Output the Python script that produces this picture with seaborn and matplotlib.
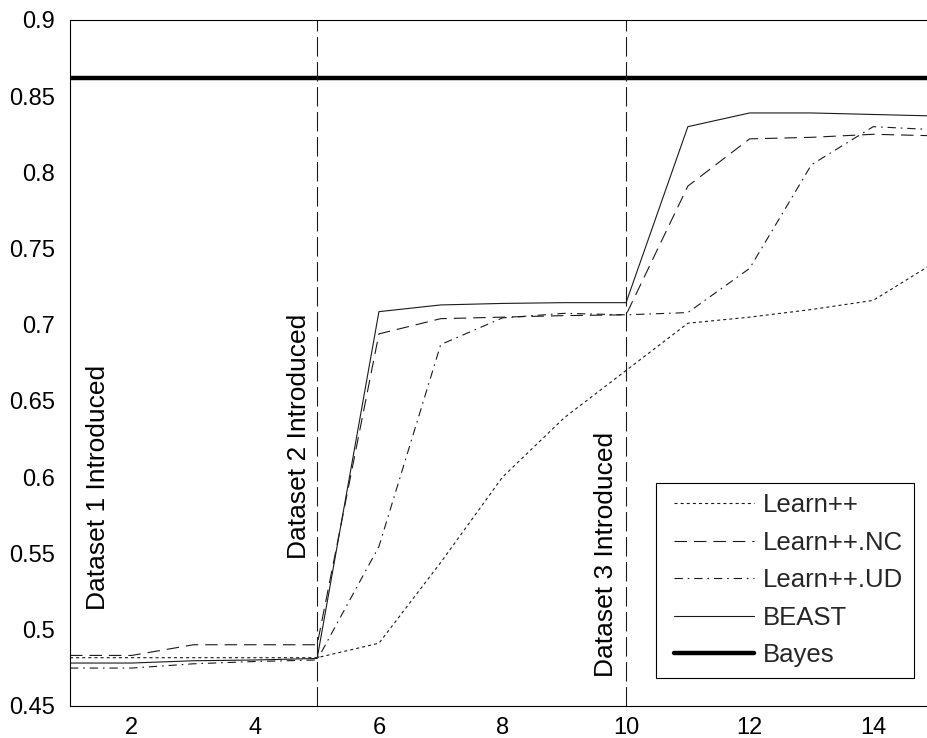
import matplotlib
matplotlib.use("Agg")
import matplotlib.pyplot as plt
from matplotlib.lines import Line2D
from matplotlib.legend_handler import HandlerLine2D
import numpy as np
import pandas as pd
import seaborn as sns

# Accuracy per incremental iteration
iterations = [1, 2, 3, 4, 5, 6, 7, 8, 9, 10, 11, 12, 13, 14, 15]
learnpp = [0.4815, 0.4815, 0.4815, 0.4815, 0.4815, 0.491, 0.544, 0.600,
           0.639, 0.670, 0.701, 0.705, 0.710, 0.716, 0.741]
learnpp_nc = [0.483, 0.483, 0.490, 0.490, 0.490, 0.694, 0.704, 0.705,
              0.706, 0.7065, 0.791, 0.822, 0.823, 0.825, 0.824]
learnpp_ud = [0.4747, 0.4747, 0.4775, 0.479, 0.480, 0.5545, 0.687, 0.7045,
              0.7075, 0.7065, 0.708, 0.737, 0.805, 0.830, 0.828]
beast = [0.478, 0.478, 0.4795, 0.480, 0.481, 0.7086, 0.713, 0.714,
         0.7145, 0.7145, 0.830, 0.839, 0.839, 0.838, 0.837]
bayes = [0.862] * len(iterations)

series_names = ["Learn++", "Learn++.NC", "Learn++.UD", "BEAST", "Bayes"]
dataset_starts = [5, 10]
dataset_labels = ["Dataset 1 Introduced", "Dataset 2 Introduced", "Dataset 3 Introduced"]
xticks = [2, 4, 6, 8, 10, 12, 14]
yticks = [0.45, 0.5, 0.55, 0.6, 0.65, 0.7, 0.75, 0.8, 0.85, 0.9]
ytick_labels = ["0.45", "0.5", "0.55", "0.6", "0.65", "0.7", "0.75", "0.8", "0.85", "0.9"]

sns.set_theme(style="white")
plt.rcParams["font.family"] = ["Liberation Sans", "DejaVu Sans"]
plt.rcParams["lines.scale_dashes"] = False

W, H = 928, 738
fig = plt.figure(figsize=(W / 100, H / 100), dpi=100)
fig.patch.set_facecolor("white")
ax = fig.add_axes([70 / W, 1 - 705.7 / H, 865 / W, 685.7 / H])

styles = [
    dict(linestyle=(0, (2.2, 2.2)), linewidth=0.8, color="#1a1a1a"),
    dict(linestyle=(0, (9, 5)), linewidth=0.8, color="#1a1a1a"),
    dict(linestyle=(0, (6, 3.5, 1.2, 3.5)), linewidth=0.8, color="#1a1a1a"),
    dict(linestyle="-", linewidth=0.8, color="#1a1a1a"),
    dict(linestyle="-", linewidth=3.2, color="#000000"),
]
values = [learnpp, learnpp_nc, learnpp_ud, beast, bayes]

for name, vals, st in zip(series_names, values, styles):
    sns.lineplot(x=iterations, y=vals, ax=ax, label=name, **st)

for xs in dataset_starts:
    ax.axvline(xs, color="#1a1a1a", linewidth=0.8, linestyle=(0, (14, 4)))

text_pos = [(1.45, 0.593), (4.7, 0.6265), (9.67, 0.549)]
for (tx, ty), lab in zip(text_pos, dataset_labels):
    ax.text(tx, ty, lab, rotation=90, ha="center", va="center", fontsize=19, color="black")

ax.set_xlim(1, 15)
ax.set_ylim(0.45, 0.9)
ax.set_xticks(xticks)
ax.set_yticks(yticks)
ax.set_yticklabels(ytick_labels)
ax.tick_params(axis="x", direction="in", length=7, width=0.6, labelsize=17, pad=8, colors="black")
ax.tick_params(axis="y", direction="in", length=5, width=0.6, labelsize=17, pad=11, colors="black")
ax.tick_params(top=False, right=False)
for sp in ax.spines.values():
    sp.set_color("black")
    sp.set_linewidth(0.8)
ax.set_xlabel("")
ax.set_ylabel("")

handles, labels = ax.get_legend_handles_labels()
leg = ax.legend(handles, labels, loc="lower right", bbox_to_anchor=(0.9757, 0.0408),
                borderaxespad=0, fontsize=18.5, handlelength=3.4, handletextpad=0.35,
                labelspacing=0.52, borderpad=0.42, fancybox=False, frameon=True,
                framealpha=1, handler_map={Line2D: HandlerLine2D(xpad=0.28)})
leg.get_frame().set_edgecolor("black")
leg.get_frame().set_linewidth(0.8)

fig.savefig("out.png", dpi=100, facecolor="white")
